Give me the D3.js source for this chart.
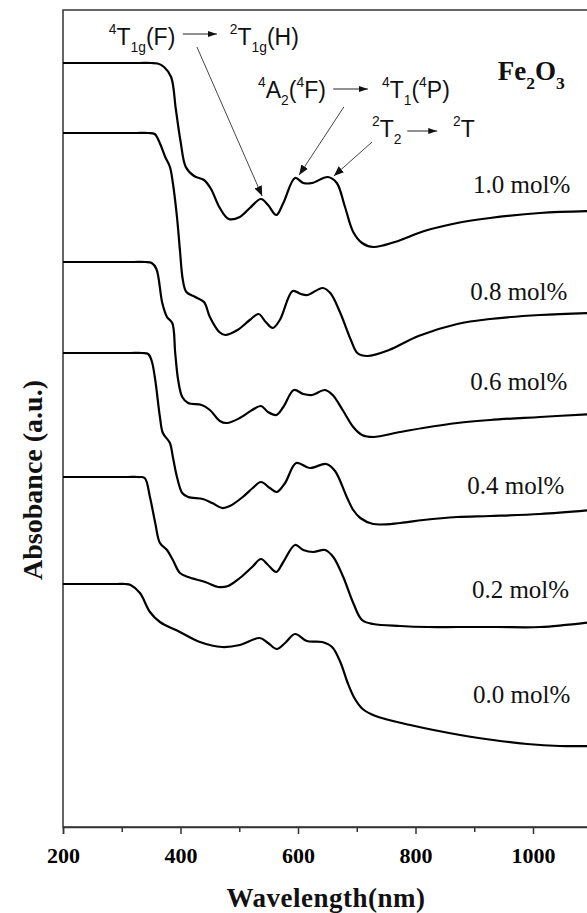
<!DOCTYPE html>
<html>
<head>
<meta charset="utf-8">
<script src="https://cdn.jsdelivr.net/npm/d3@7"></script>
<style>
  body { margin: 0; background: #fff; }
</style>
</head>
<body>
<div id="chart"></div>
<script>
// absorbance spectra (wavelength nm, absorbance a.u. incl. vertical offset)
const s10 = [[200,7.64],[250,7.64],[300,7.64],[330,7.64],[350,7.64],[361,7.635],[372,7.60],[384,7.50],[392,7.18],[400,6.86],[409,6.60],[423,6.51],[440,6.47],[452,6.38],[466,6.20],[482,6.08],[501,6.10],[518,6.19],[537,6.28],[549,6.22],[563,6.12],[575,6.24],[595,6.49],[609,6.44],[624,6.44],[651,6.50],[666,6.44],[680,6.20],[694,5.95],[709,5.84],[728,5.80],[765,5.85],[815,5.96],[871,6.04],[927,6.09],[1012,6.14],[1100,6.16]];
const s08 = [[200,6.94],[250,6.94],[300,6.94],[325,6.94],[345,6.94],[356,6.93],[364,6.85],[374,6.70],[382,6.60],[387,6.44],[394,6.10],[399,5.77],[404,5.47],[410,5.35],[425,5.30],[440,5.25],[450,5.10],[466,4.95],[476,4.92],[497,4.97],[518,5.07],[533,5.13],[545,5.05],[557,4.99],[569,5.07],[591,5.36],[605,5.33],[616,5.32],[642,5.39],[655,5.34],[672,5.14],[690,4.87],[701,4.74],[718,4.71],[755,4.77],[805,4.91],[871,5.03],[927,5.08],[1012,5.12],[1100,5.14]];
const s06 = [[200,5.65],[250,5.65],[300,5.65],[320,5.65],[340,5.65],[351,5.64],[359,5.58],[369,5.24],[377,5.10],[386,5.04],[391,4.74],[396,4.47],[403,4.30],[413,4.24],[436,4.22],[450,4.17],[467,4.06],[479,4.04],[501,4.09],[522,4.17],[537,4.21],[549,4.15],[563,4.12],[575,4.20],[593,4.37],[609,4.33],[624,4.32],[646,4.37],[659,4.32],[676,4.17],[694,4.00],[709,3.92],[728,3.90],[774,3.95],[813,3.99],[871,4.04],[927,4.07],[1012,4.10],[1100,4.13]];
const s04 = [[200,4.74],[250,4.74],[290,4.74],[315,4.74],[335,4.74],[345,4.73],[351,4.66],[357,4.47],[365,4.10],[370,3.94],[382,3.84],[387,3.70],[394,3.50],[403,3.34],[413,3.30],[438,3.28],[454,3.24],[471,3.19],[484,3.21],[506,3.30],[523,3.39],[537,3.45],[552,3.39],[564,3.35],[578,3.44],[597,3.64],[620,3.59],[648,3.63],[663,3.56],[683,3.30],[694,3.17],[706,3.09],[728,3.03],[774,3.04],[813,3.07],[871,3.10],[927,3.11],[1012,3.13],[1100,3.17]];
const s02 = [[200,3.50],[250,3.50],[290,3.50],[310,3.50],[328,3.50],[339,3.49],[348,3.30],[357,3.04],[365,2.84],[377,2.77],[387,2.67],[399,2.54],[413,2.50],[442,2.45],[464,2.40],[481,2.41],[501,2.49],[522,2.60],[537,2.68],[549,2.62],[563,2.55],[575,2.65],[595,2.82],[609,2.77],[626,2.75],[646,2.77],[660,2.70],[677,2.50],[694,2.24],[709,2.07],[728,2.03],[774,2.01],[820,2.00],[871,2.00],[940,2.00],[1012,2.00],[1100,2.05]];
const s00 = [[200,2.43],[240,2.43],[270,2.43],[292,2.43],[306,2.43],[315,2.42],[331,2.34],[348,2.15],[365,2.05],[399,1.95],[433,1.85],[471,1.80],[501,1.82],[535,1.89],[549,1.84],[564,1.78],[578,1.84],[595,1.93],[615,1.86],[641,1.85],[658,1.80],[672,1.65],[684,1.45],[696,1.29],[710,1.18],[732,1.11],[791,1.02],[876,0.92],[932,0.87],[990,0.83],[1045,0.81],[1100,0.81]];

const series = [s10, s08, s06, s04, s02, s00];
const seriesLabels = ['1.0 mol%', '0.8 mol%', '0.6 mol%', '0.4 mol%', '0.2 mol%', '0.0 mol%'];
const majorTicks = [200, 400, 600, 800, 1000];
const minorTicks = [300, 500, 700, 900, 1100];

// label anchors (data units)
const labelAt = [[898, 6.34], [893, 5.27], [893, 4.37], [888, 3.33], [896, 2.29], [898, 1.24]];

const width = 587, height = 913;
const plotLeft = 63, plotTop = 10, plotBottom = 827;

const x = d3.scaleLinear().domain([200, 1100]).range([plotLeft, plotLeft + 900 * 0.5875]);
const y = d3.scaleLinear().domain([0, 8.17]).range([plotBottom, plotTop]);

const svg = d3.select('#chart').append('svg')
  .attr('width', width)
  .attr('height', height)
  .style('display', 'block');

const defs = svg.append('defs');
defs.append('marker')
  .attr('id', 'head')
  .attr('markerUnits', 'userSpaceOnUse')
  .attr('markerWidth', 10).attr('markerHeight', 8)
  .attr('refX', 10).attr('refY', 4)
  .attr('orient', 'auto')
  .append('path').attr('d', 'M0,0 L10,4 L0,8 Z').attr('fill', '#111');
defs.append('marker')
  .attr('id', 'headSmall')
  .attr('markerUnits', 'userSpaceOnUse')
  .attr('markerWidth', 9).attr('markerHeight', 6)
  .attr('refX', 9).attr('refY', 3)
  .attr('orient', 'auto')
  .append('path').attr('d', 'M0,0 L9,3 L0,6 Z').attr('fill', '#111');

// frame
svg.append('rect')
  .attr('x', plotLeft).attr('y', plotTop)
  .attr('width', x(1100) - plotLeft).attr('height', plotBottom - plotTop)
  .attr('fill', 'none').attr('stroke', '#333').attr('stroke-width', 1.5);

const xAxis = svg.append('g')
  .attr('transform', `translate(0,${plotBottom})`)
  .call(d3.axisBottom(x).tickValues(majorTicks).tickSize(7).tickFormat(d3.format('d')));
xAxis.select('.domain').attr('stroke', '#333').attr('stroke-width', 1.5);
xAxis.selectAll('.tick line').attr('stroke', '#333').attr('stroke-width', 1.5);
xAxis.selectAll('.tick text')
  .attr('y', 20).attr('dy', '0.72em')
  .attr('fill', '#000')
  .style('font-family', '"Liberation Serif", "Times New Roman", serif')
  .style('font-weight', 'bold')
  .style('font-size', '22px');

const xMinor = svg.append('g')
  .attr('transform', `translate(0,${plotBottom})`)
  .call(d3.axisBottom(x).tickValues(minorTicks).tickSize(5).tickFormat(''));
xMinor.select('.domain').remove();
xMinor.selectAll('.tick line').attr('stroke', '#333').attr('stroke-width', 1.5);

// spectra
const line = d3.line()
  .x(d => x(d[0]))
  .y(d => y(d[1]))
  .curve(d3.curveCatmullRom.alpha(0.5));

svg.append('g')
  .selectAll('path')
  .data(series)
  .join('path')
  .attr('d', line)
  .attr('fill', 'none')
  .attr('stroke', '#000')
  .attr('stroke-width', 2.2)
  .attr('stroke-linejoin', 'round');

// concentration labels
svg.append('g')
  .selectAll('text')
  .data(seriesLabels)
  .join('text')
  .attr('x', (d, i) => x(labelAt[i][0]))
  .attr('y', (d, i) => y(labelAt[i][1]))
  .style('font-family', '"Liberation Serif", "Times New Roman", serif')
  .style('font-size', '25px')
  .attr('fill', '#111')
  .text(d => d);

// rich text helper for super/subscripts
function rich(parts, at, size, family, weight) {
  const t = svg.append('text')
    .attr('x', x(at[0])).attr('y', y(at[1]))
    .style('font-family', family)
    .style('font-weight', weight || 'normal')
    .style('font-size', size + 'px')
    .attr('fill', '#111');
  let shift = 0;
  parts.forEach(p => {
    let target = 0, fs = size;
    if (p[1] === 'sup') { target = -0.5 * size; fs = size * 0.6; }
    if (p[1] === 'sub') { target = 0.32 * size; fs = size * (p[2] || 0.6); }
    t.append('tspan')
      .attr('dy', target - shift)
      .style('font-size', fs + 'px')
      .text(p[0]);
    shift = target;
  });
  return t;
}

const sans = '"Liberation Sans", Arial, sans-serif';
const serif = '"Liberation Serif", "Times New Roman", serif';

rich([['4', 'sup'], ['T'], ['1g', 'sub'], ['(F)']], [278, 7.82], 23, sans);
rich([['2', 'sup'], ['T'], ['1g', 'sub'], ['(H)']], [484, 7.82], 23, sans);
rich([['4', 'sup'], ['A'], ['2', 'sub'], ['('], ['4', 'sup'], ['F)']], [532, 7.29], 23, sans);
rich([['4', 'sup'], ['T'], ['1', 'sub'], ['('], ['4', 'sup'], ['P)']], [743, 7.29], 23, sans);
rich([['2', 'sup'], ['T'], ['2', 'sub']], [726, 6.90], 23, sans);
rich([['2', 'sup'], ['T']], [864, 6.90], 23, sans);
rich([['Fe'], ['2', 'sub', 0.65], ['O'], ['3', 'sub', 0.65]], [940, 7.47], 27, serif, 'bold');

// horizontal transition arrows
const transArrows = [[[404, 7.93], [462, 7.93]], [[660, 7.38], [719, 7.38]], [[786, 6.96], [837, 6.96]]];
svg.append('g').selectAll('line')
  .data(transArrows)
  .join('line')
  .attr('x1', d => x(d[0][0])).attr('y1', d => y(d[0][1]))
  .attr('x2', d => x(d[1][0])).attr('y2', d => y(d[1][1]))
  .attr('stroke', '#222').attr('stroke-width', 1)
  .attr('marker-end', 'url(#headSmall)');

// pointer arrows to the bands
const pointers = [[[428, 7.80], [539, 6.31]], [[678, 7.20], [602, 6.52]], [[726, 6.85], [661, 6.51]]];
svg.append('g').selectAll('line')
  .data(pointers)
  .join('line')
  .attr('x1', d => x(d[0][0])).attr('y1', d => y(d[0][1]))
  .attr('x2', d => x(d[1][0])).attr('y2', d => y(d[1][1]))
  .attr('stroke', '#444').attr('stroke-width', 1)
  .attr('marker-end', 'url(#head)');

// axis titles
svg.append('text')
  .attr('x', 326).attr('y', 907)
  .attr('text-anchor', 'middle')
  .style('font-family', serif)
  .style('font-weight', 'bold')
  .style('font-size', '27px')
  .style('letter-spacing', '0.5px')
  .attr('fill', '#111')
  .text('Wavelength(nm)');

svg.append('text')
  .attr('transform', 'translate(42,480) rotate(-90)')
  .attr('text-anchor', 'middle')
  .style('font-family', serif)
  .style('font-weight', 'bold')
  .style('font-size', '28px')
  .attr('fill', '#111')
  .text('Absobance (a.u.)');
</script>
</body>
</html>
